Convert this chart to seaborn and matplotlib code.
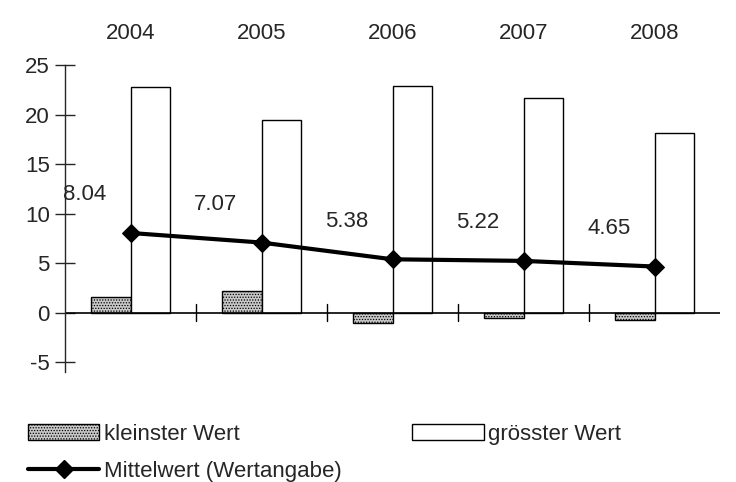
import matplotlib
matplotlib.use("Agg")
import matplotlib.pyplot as plt
import seaborn as sns
import numpy as np
import pandas as pd
from matplotlib.patches import Patch
from matplotlib.lines import Line2D

years = ["2004", "2005", "2006", "2007", "2008"]
kleinster = [1.6, 2.2, -1.1, -0.5, -0.7]
groesster = [22.8, 19.4, 22.9, 21.7, 18.1]
mittel = [8.04, 7.07, 5.38, 5.22, 4.65]

sns.set_style("white")
plt.rcParams['font.family'] = ['Liberation Sans', 'DejaVu Sans']
plt.rcParams['hatch.linewidth'] = 0.6

fig = plt.figure(figsize=(7.36, 4.82), dpi=100)
ax = fig.add_axes([65/736, 1-372/482, 655/736, (372-65)/482])

x = np.arange(len(years))
w = 0.3
ax.bar(x - w/2, kleinster, w, color="#c8c8c8", edgecolor="black", hatch="......", linewidth=1)
ax.bar(x + w/2, groesster, w, color="white", edgecolor="black", linewidth=1)
df = pd.DataFrame({"x": x, "m": mittel})
sns.lineplot(data=df, x="x", y="m", ax=ax, color="black", linewidth=3, marker="D", markersize=9, markeredgecolor="black")
for xi, m in zip(x, mittel):
    ax.text(xi - 0.35, m + 2.8, f"{m:.2f}", ha="center", va="bottom", fontsize=16)

ax.set_xlim(-0.5, 4.5)
ax.set_yticks([-5, 0, 5, 10, 15, 20, 25])
ax.set_yticklabels(["-5", "0", "5", "10", "15", "20", "25"], fontsize=16)
for s in ["top", "right", "bottom"]:
    ax.spines[s].set_visible(False)
ax.spines["left"].set_linewidth(1)
ax.tick_params(axis="y", direction="inout", length=14, width=1, left=True, pad=4)
ax.axhline(0, color="black", linewidth=1.2)
ax.set_xticks([])
ax.set_xlabel(""); ax.set_ylabel("")
for b in np.arange(0.5, 4.5, 1):
    ax.plot([b, b], [-0.9, 0.9], color="black", linewidth=1)
for xi, y in zip(x, years):
    ax.text(xi, 1.07, y, transform=ax.get_xaxis_transform(), ha="center", va="bottom", fontsize=16)
ax.set_ylim(-6, 25)

h1 = Patch(facecolor="#c8c8c8", edgecolor="black", hatch="......", label="kleinster Wert")
h2 = Patch(facecolor="white", edgecolor="black", label="grösster Wert")
h3 = Line2D([], [], color="black", linewidth=3, marker="D", markersize=9, label="Mittelwert (Wertangabe)")
fig.legend(handles=[h1, h3, h2], loc="upper left", bbox_to_anchor=(8/736, 1-404/482), ncol=2,
           frameon=False, fontsize=16, handlelength=3.2, columnspacing=3.2, labelspacing=0.7, handletextpad=0.2)
fig.savefig("out.png", dpi=100)
